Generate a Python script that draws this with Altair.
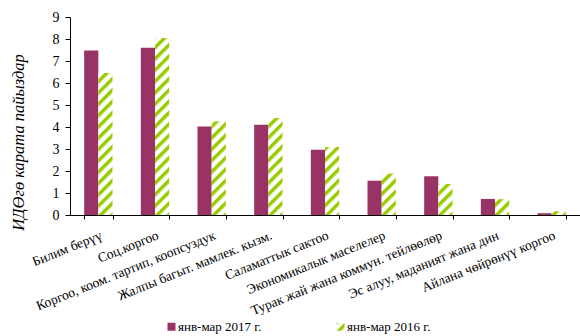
import altair as alt
import pandas as pd
import jinja2

categories = [
    "Билим берүү",
    "Соц.коргоо",
    "Коргоо, коом. тартип, коопсуздук",
    "Жалпы багыт. мамлек. кызм.",
    "Саламаттык сактоо",
    "Экономикалык маселелер",
    "Турак жай жана коммун. тейлөөлөр",
    "Эс алуу, маданият жана дин",
    "Айлана чөйрөнүү коргоо",
]
series_names = ["янв-мар 2017 г.", "янв-мар 2016 г."]
values_2017 = [7.48, 7.6, 4.02, 4.1, 2.97, 1.56, 1.76, 0.73, 0.08]
values_2016 = [6.46, 8.04, 4.26, 4.41, 3.09, 1.88, 1.41, 0.72, 0.17]
y_ticks = [0, 1, 2, 3, 4, 5, 6, 7, 8, 9]

rows = []
for c, v in zip(categories, values_2017):
    rows.append({"cat": c, "series": series_names[0], "value": v})
for c, v in zip(categories, values_2016):
    rows.append({"cat": c, "series": series_names[1], "value": v})
df = pd.DataFrame(rows)

FONT = "Liberation Serif"

chart = (
    alt.Chart(df)
    .mark_bar()
    .encode(
        x=alt.X(
            "cat:N",
            sort=categories,
            scale=alt.Scale(paddingInner=0.5, paddingOuter=0.25),
            axis=alt.Axis(
                title=None,
                labelAngle=-22,
                labelAlign="right",
                labelBaseline="top",
                labelFont=FONT,
                labelFontSize=13.5,
                labelColor="#000",
                labelPadding=9,
                labelLimit=400,
                tickBand="extent",
                tickSize=4,
                tickColor="#000",
                domainColor="#000",
            ),
        ),
        xOffset=alt.XOffset("series:N", sort=series_names,
                            scale=alt.Scale(paddingInner=0, paddingOuter=0)),
        y=alt.Y(
            "value:Q",
            scale=alt.Scale(domain=[0, 9], nice=False),
            axis=alt.Axis(
                title="ИДӨгө карата пайыздар",
                titleFont=FONT,
                titleFontStyle="italic",
                titleFontWeight="normal",
                titleFontSize=16.5,
                titleColor="#000",
                titleAngle=-90,
                titleX=-52,
                titleY=125,
                titleAlign="center",
                titleBaseline="middle",
                values=y_ticks,
                grid=False,
                labelFont=FONT,
                labelFontSize=14,
                labelColor="#000",
                tickSize=5,
                tickColor="#000",
                domainColor="#000",
                labelPadding=6,
            ),
        ),
        color=alt.Color(
            "series:N",
            sort=series_names,
            scale=alt.Scale(domain=series_names, range=["#993366", "url(#hatch)"]),
            legend=alt.Legend(
                title=None,
                orient="none",
                direction="horizontal",
                legendX=95,
                legendY=303,
                symbolType="square",
                symbolSize=64,
                symbolStrokeWidth=0,
                labelFont=FONT,
                labelFontSize=13,
                labelColor="#000",
                labelOffset=0,
                columnPadding=72,
                padding=0,
            ),
        ),
    )
    .properties(
        width=510,
        height=198,
        autosize=alt.AutoSizeParams(type="none"),
        padding={"left": 70, "top": 17, "right": 0, "bottom": 121},
    )
    .configure(font=FONT)
    .configure_view(stroke=None)
)

template = jinja2.Template("""<!DOCTYPE html>
<html>
<head>
  <style>
    body { margin: 0; }
    #{{ output_div }}.vega-embed { width: 100%; display: flex; }
  </style>
  <script type="text/javascript" src="{{ base_url }}/vega@{{ vega_version }}"></script>
  <script type="text/javascript" src="{{ base_url }}/vega-lite@{{ vegalite_version }}"></script>
  <script type="text/javascript" src="{{ base_url }}/vega-embed@{{ vegaembed_version }}"></script>
</head>
<body>
  <svg width="0" height="0" style="position:absolute">
    <defs>
      <pattern id="hatch" patternUnits="userSpaceOnUse" width="8" height="8" patternTransform="rotate(45)">
        <rect width="8" height="8" fill="white"></rect>
        <rect width="3.5" height="8" fill="#99CC00"></rect>
      </pattern>
    </defs>
  </svg>
  <div id="{{ output_div }}"></div>
  <script>
    (function(vegaEmbed) {
      var spec = {{ spec }};
      var embedOpt = {{ embed_options }};
      const el = document.getElementById('{{ output_div }}');
      vegaEmbed("#{{ output_div }}", spec, embedOpt).catch(function(error) {
        el.innerHTML = '<div style="color:red;">' + error.message + '</div>';
      });
    })(vegaEmbed);
  </script>
</body>
</html>
""")

chart.save("out.html", embed_options={"renderer": "svg", "actions": False}, template=template)
